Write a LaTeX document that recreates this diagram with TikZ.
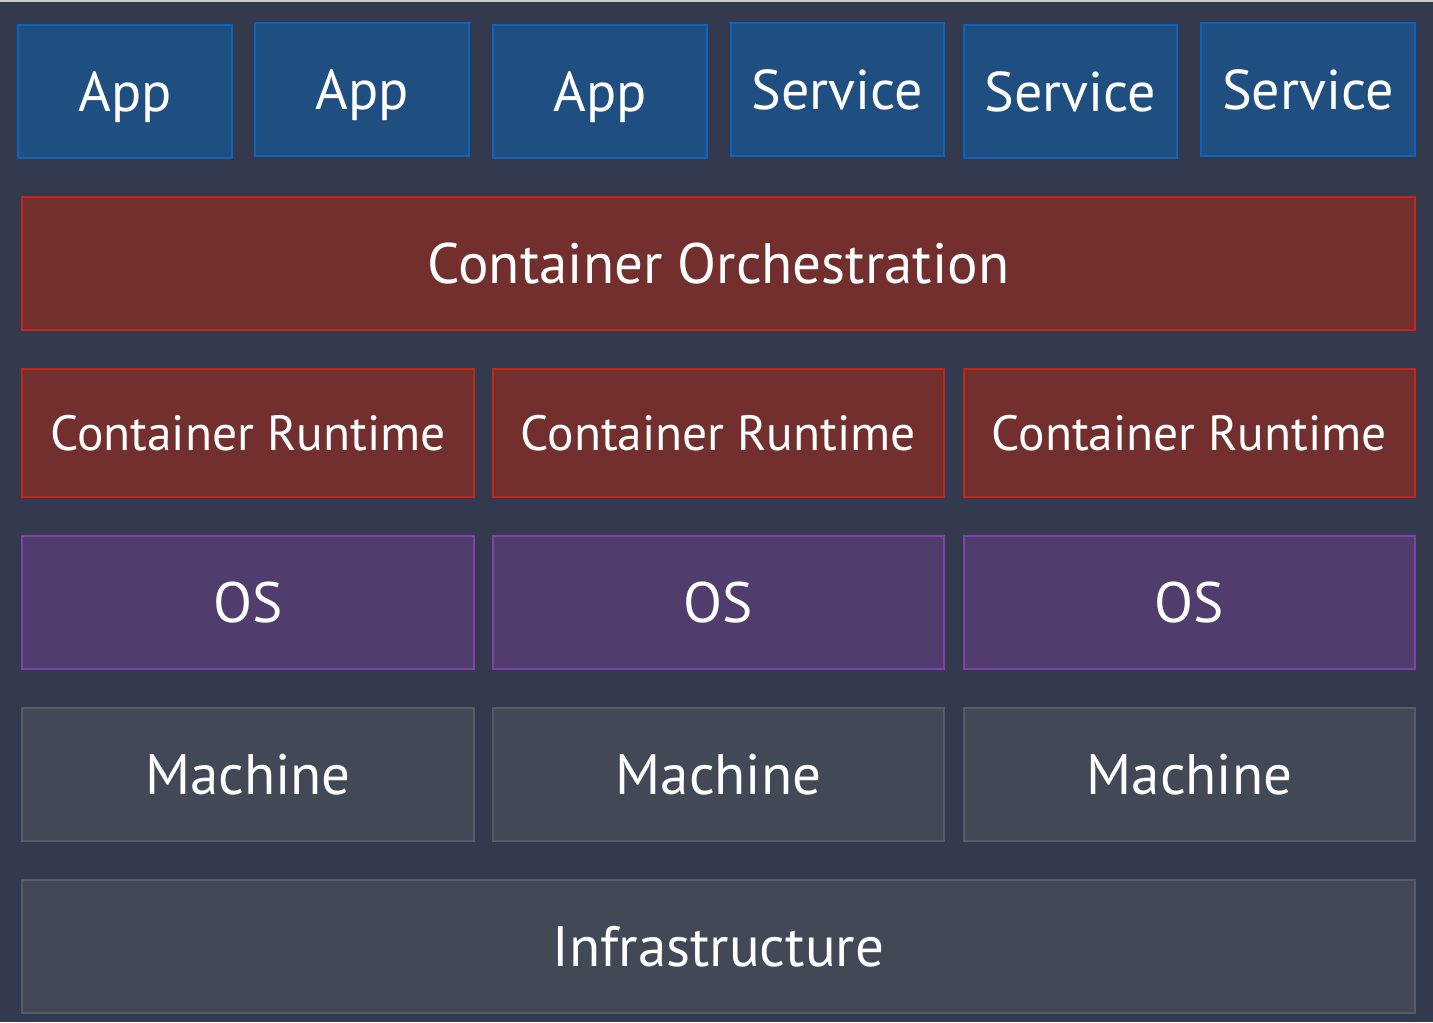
\documentclass[tikz,border=0pt]{standalone}
\usepackage{fontspec}
\setmainfont{PT Sans}
\definecolor{bg}{HTML}{343A4D}
\definecolor{bluefill}{HTML}{1F4E80}
\definecolor{blueline}{HTML}{0A64C0}
\definecolor{redfill}{HTML}{732F2E}
\definecolor{redline}{HTML}{C0281C}
\definecolor{purfill}{HTML}{513C6E}
\definecolor{purline}{HTML}{7F43A8}
\definecolor{grayfill}{HTML}{424855}
\definecolor{grayline}{HTML}{575D68}
\tikzset{
  layer/.style={draw, line width=2bp, text=white, anchor=north west, inner sep=0pt},
  blue/.style={layer, fill=bluefill, draw=blueline, text depth=0pt, font=\fontsize{56bp}{60bp}\selectfont},
  red/.style={layer, fill=redfill, draw=redline},
  pur/.style={layer, fill=purfill, draw=purline, font=\fontsize{57bp}{60bp}\selectfont},
  gry/.style={layer, fill=grayfill, draw=grayline, font=\fontsize{57bp}{60bp}\selectfont},
  big/.style={font=\fontsize{57bp}{60bp}\selectfont},
  mid/.style={font=\fontsize{49.5bp}{52bp}\selectfont},
}
\begin{document}
\begin{tikzpicture}[x=1bp,y=-1bp]
\fill[bg] (0,0) rectangle (1433,1022);
\fill[gray!40] (0,0) rectangle (1433,1.5);
\useasboundingbox (0,0) rectangle (1433,1022);
% top row
\node[blue, minimum width=214bp, minimum height=133bp] (app1) at (17,24) {App};
\node[blue, minimum width=214bp, minimum height=133bp] (app2) at (254,22) {App};
\node[blue, minimum width=214bp, minimum height=133bp] (app3) at (492,24) {App};
\node[blue, minimum width=213bp, minimum height=133bp] (svc1) at (730,22) {Service};
\node[blue, minimum width=213bp, minimum height=133bp] (svc2) at (963,24) {Service};
\node[blue, minimum width=214bp, minimum height=133bp] (svc3) at (1200,22) {Service};
% orchestration
\node[red, big, minimum width=1393bp, minimum height=133bp] (orch) at (21,196) {Container Orchestration};
% runtimes
\node[red, mid, minimum width=452bp, minimum height=128bp] (rt1) at (21,368) {Container Runtime};
\node[red, mid, minimum width=451bp, minimum height=128bp] (rt2) at (492,368) {Container Runtime};
\node[red, mid, minimum width=451bp, minimum height=128bp] (rt3) at (963,368) {Container Runtime};
% OS
\node[pur, minimum width=452bp, minimum height=133bp] (os1) at (21,535) {OS};
\node[pur, minimum width=451bp, minimum height=133bp] (os2) at (492,535) {OS};
\node[pur, minimum width=451bp, minimum height=133bp] (os3) at (963,535) {OS};
% machines
\node[gry, minimum width=452bp, minimum height=133bp] (m1) at (21,707) {Machine};
\node[gry, minimum width=451bp, minimum height=133bp] (m2) at (492,707) {Machine};
\node[gry, minimum width=451bp, minimum height=133bp] (m3) at (963,707) {Machine};
% infrastructure
\node[gry, minimum width=1393bp, minimum height=133bp] (infra) at (21,879) {Infrastructure};
\end{tikzpicture}
\end{document}
